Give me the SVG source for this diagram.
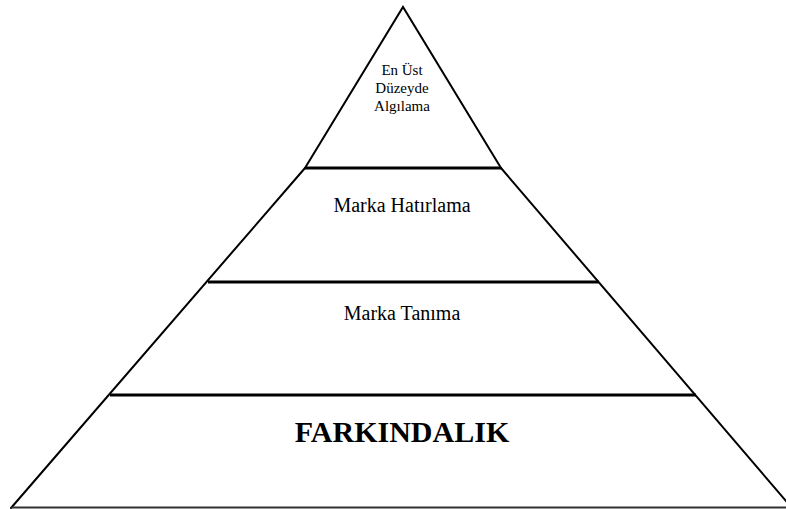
<svg xmlns="http://www.w3.org/2000/svg" width="786" height="509" viewBox="0 0 786 509">
<style>
.edge{stroke:#000;stroke-width:2;fill:none;stroke-linecap:round}
.div{stroke:#000;stroke-width:3;fill:none}
.t{font-family:"Liberation Serif","Times New Roman",serif;fill:#000;text-anchor:middle}
</style>
<rect width="786" height="509" fill="#fff"/>
<g id="connectors">
<path class="edge" d="M305,168 L403,7 L501,168"/>
<path class="edge" d="M305,168 L11,508"/>
<path class="edge" d="M501,168 L792,508"/>
<line class="div" x1="305" y1="168" x2="501" y2="168"/>
<line class="div" x1="208" y1="282" x2="599" y2="282"/>
<line class="div" x1="110" y1="395" x2="696" y2="395"/>
<line x1="11" y1="507.5" x2="786" y2="507.5" stroke="#333" stroke-width="2"/>
</g>
<g id="node-top">
<text class="t" font-size="15" x="402" y="75">En Üst</text>
<text class="t" font-size="15" x="402" y="93">Düzeyde</text>
<text class="t" font-size="15" x="402" y="111">Algılama</text>
</g>
<g id="node-hatirlama">
<text class="t" font-size="20" x="402" y="212">Marka Hatırlama</text>
</g>
<g id="node-tanima">
<text class="t" font-size="20" x="402" y="320">Marka Tanıma</text>
</g>
<g id="node-farkindalik">
<text class="t" font-size="30" font-weight="bold" x="402" y="442">FARKINDALIK</text>
</g>
</svg>
